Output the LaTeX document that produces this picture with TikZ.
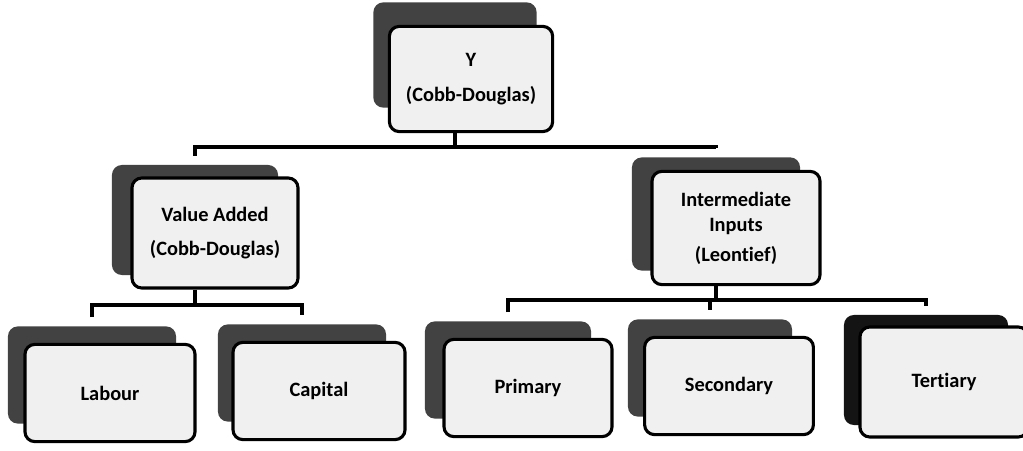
\documentclass[tikz,border=0pt]{standalone}
\usepackage{fontspec}
\setmainfont{Carlito}[Ligatures=NoCommon]
\usetikzlibrary{calc}

\begin{document}
\begin{tikzpicture}[x=0.025cm, y=-0.025cm,
	front/.style={draw, line width=2.2pt, rounded corners=7pt, fill=gray!12, align=center, inner sep=0pt, font=\bfseries\fontsize{14.5}{21}\selectfont},
	back/.style={fill=black!74, rounded corners=7pt, inner sep=0pt},
	link/.style={line width=2.8pt}]
	\useasboundingbox (0,0) rectangle (1023,451);

	% shadows behind the boxes
	\node[back, minimum width=4.08cm, minimum height=2.63cm] (yS) at (455,55) {};
	\node[back, minimum width=4.15cm, minimum height=2.75cm] (vaS) at (195,220) {};
	\node[back, minimum width=4.2cm, minimum height=2.83cm] (intS) at (716,214) {};
	\node[back, minimum width=4.2cm, minimum height=2.43cm] (labourS) at (92,375) {};
	\node[back, minimum width=4.2cm, minimum height=2.43cm] (capitalS) at (302,373) {};
	\node[back, minimum width=4.15cm, minimum height=2.43cm] (primaryS) at (508,370) {};
	\node[back, minimum width=4.1cm, minimum height=2.43cm] (secondaryS) at (710,368) {};
	\node[back, fill=black!92, minimum width=4.1cm, minimum height=2.75cm] (tertiaryS) at (926,370) {};

	% the boxes
	\node[front, minimum width=4.08cm, minimum height=2.63cm] (y) at (471,79) {Y\\[4pt](Cobb-Douglas)};
	\node[front, minimum width=4.15cm, minimum height=2.75cm] (va) at (215,233) {Value Added\\[3pt](Cobb-Douglas)};
	\node[front, minimum width=4.2cm, minimum height=2.83cm] (int) at (736,228) {Intermediate\\[-3pt]Inputs\\(Leontief)};
	\node[front, minimum width=4.25cm, minimum height=2.43cm] (labour) at (110,393) {Labour};
	\node[front, minimum width=4.3cm, minimum height=2.43cm] (capital) at (319,391) {Capital};
	\node[front, minimum width=4.2cm, minimum height=2.43cm] (primary) at (528,388) {Primary};
	\node[front, minimum width=4.22cm, minimum height=2.43cm] (secondary) at (729,386) {Secondary};
	\node[front, minimum width=4.2cm, minimum height=2.75cm] (tertiary) at (944,382) {Tertiary};

	% connectors
	\draw[link] (yS.center |- y.south) -- ++(0,14) coordinate (ybus);
	\draw[link] ($(vaS.north)+(0,-9)$) |- (ybus) -| ($(intS.north)+(0,-9)$);

	\draw[link] (vaS.center |- va.south) -- ++(0,15) coordinate (vabus);
	\draw[link] ($(labourS.north)+(0,-9)$) |- (vabus) -| ($(capitalS.north)+(0,-9)$);

	\draw[link] (intS.center |- int.south) -- ++(0,14) coordinate (intbus);
	\draw[link] ($(primaryS.north)+(0,-9)$) |- (intbus) -| ($(tertiaryS.north)+(0,-9)$);
	\draw[link] (intbus -| secondaryS) -- ($(secondaryS.north)+(0,-9)$);
\end{tikzpicture}
\end{document}
